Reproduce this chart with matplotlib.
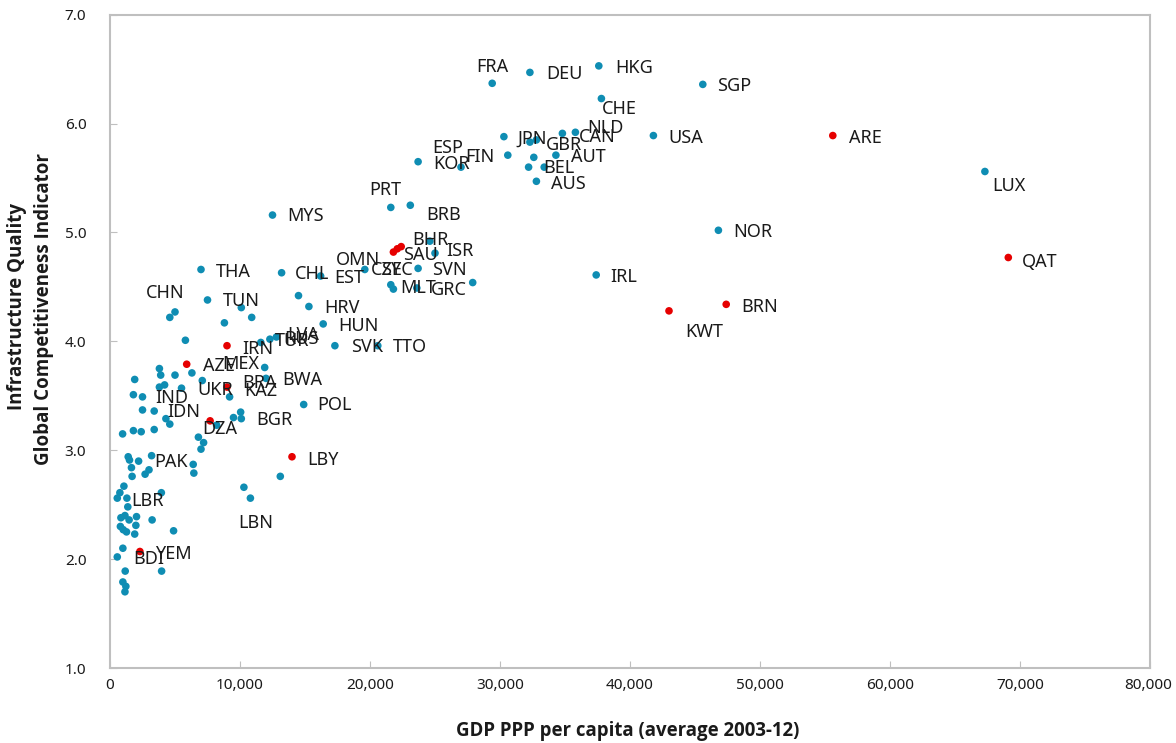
import matplotlib
matplotlib.use("Agg")
import matplotlib.pyplot as plt
from matplotlib.transforms import ScaledTranslation

plt.rcParams['font.family'] = ['Noto Sans', 'DejaVu Sans']

# ---- data: (GDP PPP per capita, infrastructure score, label, oil exporter) ----
names = [
    "FRA", "DEU", "HKG", "CHE", "SGP", "USA", "ARE", "NLD", "CAN", "JPN",
    "", "GBR", "KOR", "ESP", "FIN", "", "AUT", "BEL", "", "AUS",
    "PRT", "BRB", "MYS", "BHR", "SAU", "OMN", "", "ISR", "SVN", "GRC",
    "MLT", "", "", "CZE", "EST", "CHL", "THA", "TUN", "CHN", "",
    "HRV", "HUN", "SVK", "TTO", "", "", "", "", "IRN", "TUR",
    "RUS", "LVA", "", "AZE", "MEX", "BWA", "KAZ", "BRA", "UKR", "IND",
    "IDN", "POL", "BGR", "", "", "DZA", "", "PAK", "LBY", "",
    "LBR", "LBN", "", "BDI", "YEM", "NOR", "IRL", "KWT", "BRN", "LUX",
    "QAT",
    "", "", "", "", "", "", "", "", "", "",
    "", "", "", "", "", "", "", "", "", "",
    "", "", "", "", "", "", "", "", "", "",
    "", "", "", "", "", "", "", "", "", "",
    "", "", "", "", "", "", "", "", "", "",
]
gdp = [
    29400, 32300, 37600, 37800, 45600, 41800, 55600, 35800, 34800, 30300,
    32300, 32800, 23700, 27000, 30600, 32600, 34300, 32200, 33400, 32800,
    21600, 23100, 12500, 22400, 22100, 21800, 24600, 25000, 23700, 27900,
    21600, 21800, 23600, 19600, 16200, 13200, 7000, 7500, 5000, 4600,
    15300, 16400, 17300, 20600, 14500, 10100, 10900, 8800, 9000, 11600,
    12300, 12800, 5800, 5900, 11900, 12000, 9000, 9200, 5500, 2500,
    3400, 14900, 10100, 10050, 9500, 7700, 8200, 2200, 14000, 13100,
    560, 10800, 10300, 560, 2300, 46800, 37400, 43000, 47400, 67300,
    69100,
    3800, 3900, 5000, 6300, 1900, 7100, 3800, 4200, 1800, 2500,
    4300, 4600, 970, 1800, 2400, 3400, 6800, 7200, 7000, 1400,
    1500, 3200, 6400, 6450, 1650, 1700, 2700, 3000, 1070, 760,
    1300, 3950, 1370, 840, 1150, 1470, 2040, 3240, 800, 1990,
    1020, 1270, 1900, 4890, 990, 1170, 3970, 990, 1220, 1150,
]
infra = [
    6.37, 6.47, 6.53, 6.23, 6.36, 5.89, 5.89, 5.92, 5.91, 5.88,
    5.83, 5.85, 5.65, 5.60, 5.71, 5.69, 5.71, 5.60, 5.60, 5.47,
    5.23, 5.25, 5.16, 4.87, 4.85, 4.82, 4.92, 4.81, 4.67, 4.54,
    4.52, 4.48, 4.49, 4.66, 4.60, 4.63, 4.66, 4.38, 4.27, 4.22,
    4.32, 4.16, 3.96, 3.96, 4.42, 4.31, 4.22, 4.17, 3.96, 3.99,
    4.02, 4.04, 4.01, 3.79, 3.76, 3.66, 3.58, 3.49, 3.57, 3.49,
    3.36, 3.42, 3.29, 3.35, 3.30, 3.27, 3.23, 2.90, 2.94, 2.76,
    2.56, 2.56, 2.66, 2.02, 2.07, 5.02, 4.61, 4.28, 4.34, 5.56,
    4.77,
    3.75, 3.69, 3.69, 3.71, 3.65, 3.64, 3.58, 3.60, 3.51, 3.37,
    3.29, 3.24, 3.15, 3.18, 3.17, 3.19, 3.12, 3.07, 3.01, 2.94,
    2.91, 2.95, 2.87, 2.79, 2.84, 2.76, 2.78, 2.82, 2.67, 2.61,
    2.56, 2.61, 2.48, 2.38, 2.40, 2.36, 2.39, 2.36, 2.30, 2.31,
    2.27, 2.25, 2.23, 2.26, 2.10, 1.89, 1.89, 1.79, 1.75, 1.70,
]
oil_exporters = ["ARE", "BHR", "SAU", "OMN", "IRN", "AZE", "KAZ", "DZA",
                 "LBY", "YEM", "KWT", "BRN", "QAT"]

x_ticks = [0, 10000, 20000, 30000, 40000, 50000, 60000, 70000, 80000]
y_ticks = [1.0, 2.0, 3.0, 4.0, 5.0, 6.0, 7.0]

# label offsets (pixels; dx right, dy down) from the dot to the label's left-centre
label_offsets = {
    "FRA": (-16, -16), "DEU": (16, 2), "HKG": (16, 2), "CHE": (0, 10),
    "SGP": (14, 2), "USA": (15, 2), "ARE": (16, 2), "NLD": (12, -4),
    "CAN": (16, 4), "JPN": (14, 2), "GBR": (9, 5), "KOR": (15, 2),
    "ESP": (-29, -19), "FIN": (-43, 2), "AUT": (15, 2), "BEL": (15, 1),
    "AUS": (15, 3), "PRT": (-22, -17), "BRB": (16, 10), "MYS": (15, 1),
    "BHR": (11, -7), "SAU": (6, 6), "OMN": (-58, 8), "ISR": (11, -2),
    "SVN": (14, 2), "GRC": (-42, 7), "MLT": (9, 3), "CZE": (6, 1),
    "EST": (14, 2), "CHL": (13, 1), "THA": (15, 3), "TUN": (15, 1),
    "CHN": (-29, -19), "HRV": (15, 1), "HUN": (15, 2), "SVK": (16, 1),
    "TTO": (15, 1), "IRN": (15, 3), "TUR": (14, -1), "RUS": (14, 0),
    "LVA": (11, -2), "AZE": (16, 2), "MEX": (-42, -3), "BWA": (16, 2),
    "KAZ": (17, 4), "BRA": (13, -14), "UKR": (16, 2), "IND": (13, 1),
    "IDN": (13, 1), "POL": (14, 0), "BGR": (15, 1), "DZA": (-8, 8),
    "PAK": (16, 1), "LBY": (15, 3), "LBR": (14, 3), "LBN": (-12, 25),
    "BDI": (16, 2), "YEM": (15, 3), "NOR": (15, 2), "IRL": (14, 2),
    "KWT": (16, 21), "BRN": (15, 3), "LUX": (7, 15), "QAT": (14, 4),
}

BLUE = "#0F8DB3"
RED = "#E60000"
BOLD_FAMILY = ['Open Sans', 'Lato', 'DejaVu Sans']

fig = plt.figure(figsize=(11.76, 7.43), dpi=100)
ax = fig.add_axes([110 / 1176, 1 - 668 / 743, (1150 - 110) / 1176, (668 - 14.7) / 743])

colors = [RED if n in oil_exporters else BLUE for n in names]
# draw blue first, red on top
order = sorted(range(len(gdp)), key=lambda i: colors[i] == RED)
ax.scatter([gdp[i] for i in order], [infra[i] for i in order],
           c=[colors[i] for i in order], s=30, linewidths=0, zorder=3)

for n, gx, gy in zip(names, gdp, infra):
    if not n:
        continue
    dx, dy = label_offsets.get(n, (15, 2))
    ax.annotate(n, (gx, gy), xytext=(dx, -dy), textcoords="offset pixels",
                ha="left", va="center", fontsize=13, color="#1a1a1a", zorder=4)
# overlapping neighbour label next to CZE
ax.annotate("SYC", (19600, 4.66), xytext=(16, -1), textcoords="offset pixels",
            ha="left", va="center", fontsize=13, color="#1a1a1a", zorder=4)

ax.set_xlim(0, 80000)
ax.set_ylim(1.0, 7.0)
ax.set_xticks(x_ticks)
ax.set_xticklabels([f"{v:,}" for v in x_ticks])
ax.set_yticks(y_ticks)
ax.set_yticklabels([f"{v:.1f}" for v in y_ticks])
ax.tick_params(direction="in", length=5, color="#BFBFBF", labelsize=11,
               labelcolor="#1a1a1a")
ax.tick_params(axis="y", pad=17)
ax.tick_params(axis="x", pad=7)
for side in ["left", "bottom", "top", "right"]:
    ax.spines[side].set_color("#BFBFBF")
    ax.spines[side].set_linewidth(1.5)
ax.tick_params(top=False, right=False)

last = ax.get_xticklabels()[-1]
last.set_transform(last.get_transform() + ScaledTranslation(-2 / 100, 0, fig.dpi_scale_trans))

fig.text(628 / 1176, 1 - 731 / 743, "GDP PPP per capita (average 2003-12)",
         ha="center", va="center", fontsize=13.4, fontweight="bold",
         family=BOLD_FAMILY, color="#1a1a1a")
fig.text(17 / 1176, 1 - 307 / 743, "Infrastructure Quality",
         ha="center", va="center", rotation=90, fontsize=13.5, fontweight="bold",
         family=BOLD_FAMILY, color="#1a1a1a")
fig.text(44 / 1176, 1 - 309 / 743, "Global Competitiveness Indicator",
         ha="center", va="center", rotation=90, fontsize=13.5, fontweight="bold",
         family=BOLD_FAMILY, color="#1a1a1a")

fig.savefig("out.png", dpi=100)
